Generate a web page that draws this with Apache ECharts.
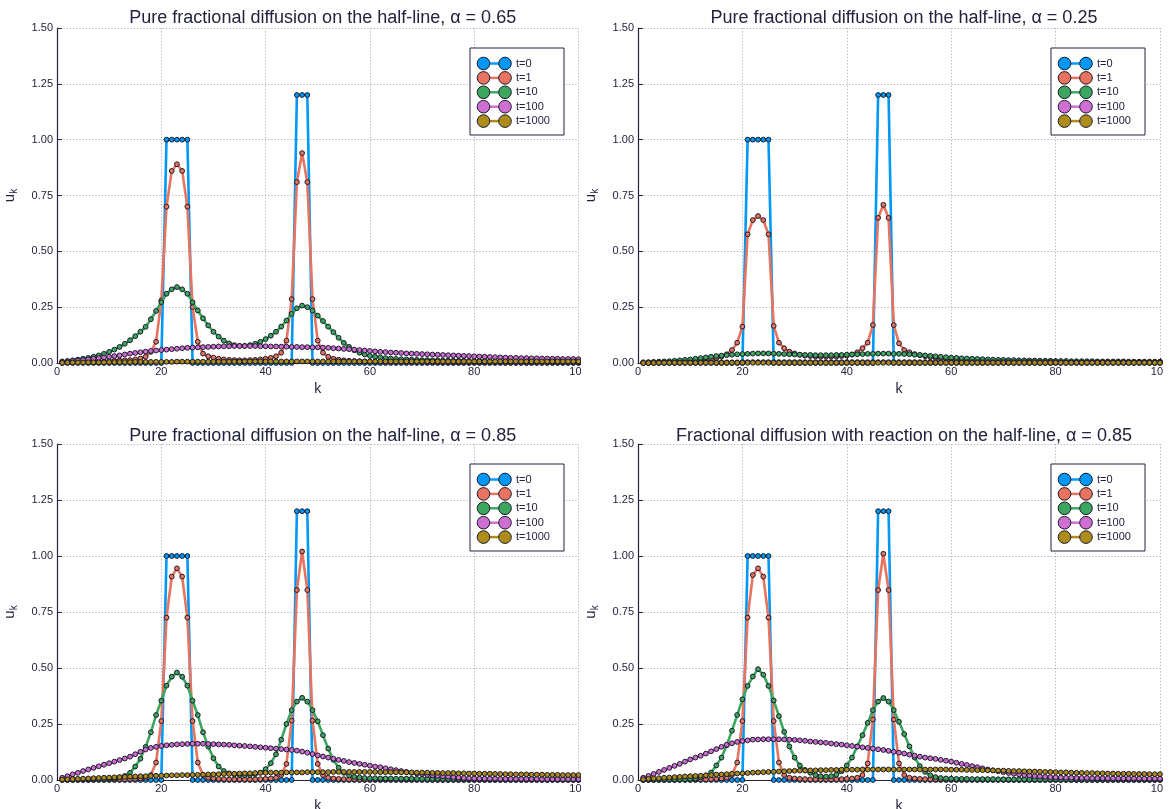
<!DOCTYPE html>
<html>
<head>
<meta charset="utf-8">
<script src="https://cdn.jsdelivr.net/npm/echarts@6/dist/echarts.min.js"></script>
<style>
  html, body { margin: 0; padding: 0; background: #ffffff; }
  body { width: 1170px; height: 809px; position: relative; overflow: hidden; }
  .panel { position: absolute; }
</style>
</head>
<body>
<div id="p1" class="panel" style="left:0;top:0;width:581px;height:404px"></div>
<div id="p2" class="panel" style="left:582px;top:0;width:581px;height:404px"></div>
<div id="p3" class="panel" style="left:0;top:404px;width:581px;height:405px"></div>
<div id="p4" class="panel" style="left:582px;top:404px;width:581px;height:405px"></div>
<script>
// lattice sites k = 1..100
const ks = [
  1,2,3,4,5,6,7,8,9,10, 11,12,13,14,15,16,17,18,19,20,
  21,22,23,24,25,26,27,28,29,30, 31,32,33,34,35,36,37,38,39,40,
  41,42,43,44,45,46,47,48,49,50, 51,52,53,54,55,56,57,58,59,60,
  61,62,63,64,65,66,67,68,69,70, 71,72,73,74,75,76,77,78,79,80,
  81,82,83,84,85,86,87,88,89,90, 91,92,93,94,95,96,97,98,99,100
];

const timeLabels = ['t=0', 't=1', 't=10', 't=100', 't=1000'];
const xTicks = [0, 20, 40, 60, 80, 100];
const yTicks = [0, 0.25, 0.5, 0.75, 1.0, 1.25, 1.5];

const titles = [
  'Pure fractional diffusion on the half-line, \u03b1 = 0.65',
  'Pure fractional diffusion on the half-line, \u03b1 = 0.25',
  'Pure fractional diffusion on the half-line, \u03b1 = 0.85',
  'Fractional diffusion with reaction on the half-line, \u03b1 = 0.85'
];

// initial profile (shared by all four runs)
const t0 = [
  0,0,0,0,0,0,0,0,0,0, 0,0,0,0,0,0,0,0,0,0,
  1,1,1,1,1,0,0,0,0,0, 0,0,0,0,0,0,0,0,0,0,
  0,0,0,0,0,1.2,1.2,1.2,0,0, 0,0,0,0,0,0,0,0,0,0,
  0,0,0,0,0,0,0,0,0,0, 0,0,0,0,0,0,0,0,0,0,
  0,0,0,0,0,0,0,0,0,0, 0,0,0,0,0,0,0,0,0,0
];

// alpha = 0.65
const a065_t1 = [
  0.003,0.003,0.004,0.004,0.005,0.005,0.006,0.007,0.008,0.009,
  0.010,0.011,0.012,0.013,0.016,0.020,0.028,0.050,0.095,0.280,
  0.700,0.860,0.890,0.860,0.700,0.250,0.095,0.042,0.030,0.024,
  0.019,0.016,0.014,0.013,0.012,0.012,0.013,0.014,0.016,0.019,
  0.023,0.030,0.046,0.100,0.286,0.810,0.940,0.810,0.286,0.100,
  0.046,0.028,0.019,0.015,0.012,0.010,0.009,0.008,0.007,0.007,
  0.006,0.006,0.005,0.005,0.005,0.005,0.004,0.004,0.004,0.004,
  0.004,0.004,0.004,0.003,0.003,0.003,0.003,0.003,0.003,0.003,
  0.003,0.003,0.003,0.003,0.003,0.002,0.002,0.002,0.002,0.002,
  0.002,0.002,0.002,0.002,0.002,0.002,0.002,0.002,0.002,0.002
];
const a065_t10 = [
  0.007,0.009,0.012,0.015,0.019,0.023,0.028,0.034,0.041,0.050,
  0.060,0.072,0.086,0.102,0.120,0.140,0.162,0.196,0.233,0.272,
  0.310,0.330,0.340,0.330,0.310,0.272,0.235,0.200,0.168,0.140,
  0.118,0.100,0.088,0.080,0.077,0.077,0.080,0.086,0.095,0.107,
  0.122,0.140,0.163,0.190,0.220,0.245,0.257,0.250,0.235,0.212,
  0.188,0.163,0.138,0.113,0.090,0.072,0.057,0.046,0.038,0.032,
  0.028,0.025,0.022,0.020,0.018,0.017,0.016,0.015,0.014,0.013,
  0.013,0.012,0.012,0.011,0.011,0.010,0.010,0.010,0.009,0.009,
  0.009,0.008,0.008,0.008,0.008,0.007,0.007,0.007,0.007,0.007,
  0.006,0.006,0.006,0.006,0.006,0.006,0.006,0.006,0.006,0.006
];
const a065_t100 = [
  0.005,0.007,0.009,0.011,0.013,0.016,0.019,0.022,0.025,0.028,
  0.031,0.034,0.038,0.042,0.045,0.048,0.051,0.054,0.056,0.058,
  0.060,0.062,0.064,0.066,0.068,0.069,0.070,0.071,0.072,0.073,
  0.074,0.075,0.075,0.076,0.076,0.076,0.076,0.076,0.075,0.075,
  0.074,0.074,0.073,0.073,0.072,0.072,0.071,0.071,0.070,0.070,
  0.069,0.068,0.066,0.065,0.063,0.062,0.060,0.058,0.056,0.054,
  0.052,0.050,0.049,0.047,0.046,0.045,0.043,0.042,0.041,0.040,
  0.039,0.038,0.037,0.036,0.035,0.034,0.033,0.032,0.031,0.030,
  0.029,0.028,0.027,0.026,0.025,0.024,0.023,0.023,0.022,0.022,
  0.021,0.021,0.020,0.020,0.019,0.019,0.018,0.018,0.018,0.017
];
const a065_t1000 = [
  0.001,0.001,0.002,0.002,0.002,0.003,0.003,0.003,0.003,0.004,
  0.004,0.004,0.004,0.004,0.005,0.005,0.005,0.005,0.005,0.005,
  0.005,0.005,0.006,0.006,0.006,0.006,0.006,0.006,0.006,0.006,
  0.006,0.006,0.006,0.006,0.006,0.007,0.007,0.007,0.007,0.007,
  0.007,0.007,0.007,0.007,0.007,0.007,0.007,0.007,0.007,0.007,
  0.007,0.007,0.007,0.007,0.007,0.007,0.007,0.007,0.007,0.007,
  0.007,0.007,0.007,0.007,0.007,0.007,0.007,0.007,0.007,0.007,
  0.007,0.007,0.007,0.007,0.007,0.007,0.007,0.007,0.007,0.007,
  0.007,0.007,0.007,0.007,0.007,0.007,0.007,0.007,0.007,0.007,
  0.007,0.007,0.007,0.007,0.007,0.007,0.007,0.007,0.007,0.007
];

// alpha = 0.25
const a025_t1 = [
  0.002,0.002,0.003,0.003,0.004,0.004,0.005,0.006,0.007,0.008,
  0.010,0.012,0.014,0.017,0.021,0.028,0.039,0.058,0.091,0.163,
  0.576,0.640,0.658,0.640,0.576,0.166,0.091,0.066,0.051,0.043,
  0.037,0.033,0.031,0.029,0.028,0.028,0.028,0.029,0.031,0.033,
  0.038,0.048,0.066,0.091,0.170,0.650,0.708,0.650,0.170,0.088,
  0.058,0.048,0.040,0.035,0.030,0.026,0.023,0.020,0.018,0.016,
  0.015,0.014,0.013,0.012,0.011,0.010,0.010,0.009,0.009,0.008,
  0.008,0.008,0.007,0.007,0.007,0.006,0.006,0.006,0.006,0.006,
  0.005,0.005,0.005,0.005,0.005,0.005,0.005,0.005,0.004,0.004,
  0.004,0.004,0.004,0.004,0.004,0.004,0.004,0.004,0.004,0.004
];
const a025_t10 = [
  0.003,0.004,0.005,0.006,0.007,0.008,0.010,0.012,0.014,0.016,
  0.019,0.022,0.025,0.028,0.031,0.033,0.035,0.037,0.039,0.040,
  0.041,0.042,0.043,0.043,0.043,0.042,0.041,0.040,0.039,0.038,
  0.037,0.036,0.036,0.035,0.035,0.035,0.035,0.036,0.036,0.037,
  0.038,0.039,0.040,0.041,0.041,0.042,0.042,0.042,0.041,0.041,
  0.040,0.039,0.037,0.036,0.034,0.032,0.030,0.028,0.026,0.024,
  0.023,0.021,0.020,0.019,0.018,0.017,0.016,0.015,0.014,0.014,
  0.013,0.013,0.012,0.012,0.011,0.011,0.010,0.010,0.010,0.009,
  0.009,0.009,0.008,0.008,0.008,0.008,0.008,0.007,0.007,0.007,
  0.007,0.007,0.007,0.006,0.006,0.006,0.006,0.006,0.006,0.006
];
const a025_t100 = [
  0.001,0.001,0.001,0.002,0.002,0.002,0.002,0.002,0.003,0.003,
  0.003,0.003,0.003,0.003,0.003,0.003,0.003,0.003,0.003,0.004,
  0.004,0.004,0.004,0.004,0.004,0.004,0.004,0.004,0.004,0.004,
  0.004,0.004,0.004,0.004,0.004,0.004,0.004,0.004,0.004,0.004,
  0.004,0.004,0.004,0.004,0.004,0.004,0.004,0.004,0.004,0.004,
  0.004,0.004,0.004,0.004,0.004,0.004,0.004,0.004,0.004,0.004,
  0.004,0.004,0.004,0.004,0.004,0.004,0.004,0.004,0.004,0.004,
  0.004,0.004,0.004,0.004,0.004,0.004,0.004,0.004,0.004,0.004,
  0.003,0.003,0.003,0.003,0.003,0.003,0.003,0.003,0.003,0.003,
  0.003,0.003,0.003,0.003,0.003,0.003,0.003,0.003,0.003,0.003
];
const a025_t1000 = [
  0.000,0.000,0.000,0.001,0.001,0.001,0.001,0.001,0.001,0.001,
  0.001,0.001,0.001,0.001,0.001,0.001,0.001,0.001,0.001,0.001,
  0.001,0.001,0.001,0.001,0.001,0.001,0.001,0.001,0.001,0.001,
  0.001,0.001,0.001,0.001,0.001,0.001,0.001,0.001,0.001,0.001,
  0.001,0.001,0.001,0.001,0.001,0.001,0.001,0.001,0.001,0.001,
  0.001,0.001,0.001,0.001,0.001,0.001,0.001,0.001,0.001,0.001,
  0.001,0.001,0.001,0.001,0.001,0.001,0.001,0.001,0.001,0.001,
  0.001,0.001,0.001,0.001,0.001,0.001,0.001,0.001,0.001,0.001,
  0.001,0.001,0.001,0.001,0.001,0.001,0.001,0.001,0.001,0.001,
  0.001,0.001,0.001,0.001,0.001,0.001,0.001,0.001,0.001,0.001
];

// alpha = 0.85
const a085_t1 = [
  0.001,0.001,0.001,0.001,0.001,0.001,0.001,0.002,0.002,0.002,
  0.002,0.003,0.003,0.004,0.005,0.007,0.010,0.022,0.078,0.263,
  0.725,0.908,0.945,0.908,0.725,0.263,0.078,0.022,0.010,0.007,
  0.005,0.004,0.003,0.003,0.003,0.003,0.003,0.003,0.004,0.005,
  0.007,0.010,0.022,0.072,0.265,0.848,1.020,0.848,0.265,0.072,
  0.022,0.010,0.007,0.005,0.004,0.003,0.003,0.002,0.002,0.002,
  0.002,0.002,0.002,0.002,0.002,0.002,0.002,0.002,0.002,0.002,
  0.001,0.001,0.001,0.001,0.001,0.001,0.001,0.001,0.001,0.001,
  0.001,0.001,0.001,0.001,0.001,0.001,0.001,0.001,0.001,0.001,
  0.001,0.001,0.001,0.001,0.001,0.001,0.001,0.001,0.001,0.001
];
const a085_t10 = [
  0.002,0.002,0.002,0.003,0.003,0.003,0.004,0.004,0.005,0.006,
  0.008,0.012,0.018,0.032,0.060,0.095,0.148,0.213,0.290,0.354,
  0.421,0.461,0.480,0.461,0.421,0.354,0.290,0.213,0.149,0.097,
  0.060,0.040,0.030,0.025,0.022,0.021,0.022,0.026,0.033,0.048,
  0.075,0.115,0.180,0.250,0.312,0.350,0.367,0.350,0.312,0.262,
  0.200,0.140,0.090,0.055,0.032,0.020,0.014,0.011,0.009,0.008,
  0.008,0.007,0.007,0.007,0.006,0.006,0.006,0.006,0.005,0.005,
  0.005,0.005,0.005,0.005,0.004,0.004,0.004,0.004,0.004,0.004,
  0.004,0.004,0.004,0.004,0.003,0.003,0.003,0.003,0.003,0.003,
  0.003,0.003,0.003,0.003,0.003,0.003,0.003,0.003,0.003,0.003
];
const a085_t100 = [
  0.010,0.017,0.025,0.032,0.040,0.047,0.054,0.061,0.068,0.075,
  0.082,0.089,0.096,0.104,0.115,0.126,0.136,0.143,0.148,0.152,
  0.155,0.157,0.159,0.160,0.161,0.162,0.162,0.162,0.161,0.160,
  0.159,0.158,0.157,0.155,0.153,0.152,0.150,0.148,0.146,0.144,
  0.142,0.140,0.138,0.136,0.134,0.131,0.127,0.122,0.116,0.110,
  0.105,0.100,0.095,0.090,0.085,0.080,0.076,0.072,0.068,0.064,
  0.060,0.057,0.052,0.048,0.044,0.040,0.036,0.032,0.029,0.026,
  0.023,0.021,0.019,0.017,0.015,0.013,0.011,0.009,0.008,0.007,
  0.006,0.006,0.006,0.006,0.005,0.005,0.005,0.005,0.005,0.005,
  0.005,0.005,0.004,0.004,0.004,0.004,0.004,0.004,0.004,0.004
];
const a085_t1000 = [
  0.002,0.003,0.004,0.005,0.006,0.007,0.008,0.009,0.010,0.011,
  0.012,0.013,0.014,0.015,0.016,0.017,0.017,0.018,0.019,0.019,
  0.020,0.021,0.021,0.022,0.022,0.023,0.023,0.024,0.025,0.025,
  0.026,0.027,0.027,0.028,0.029,0.030,0.030,0.031,0.032,0.032,
  0.033,0.033,0.033,0.034,0.034,0.034,0.034,0.035,0.035,0.035,
  0.035,0.035,0.036,0.036,0.036,0.036,0.036,0.036,0.036,0.036,
  0.036,0.035,0.035,0.035,0.035,0.034,0.034,0.034,0.033,0.033,
  0.033,0.032,0.032,0.031,0.031,0.031,0.030,0.030,0.029,0.029,
  0.028,0.028,0.028,0.027,0.027,0.026,0.026,0.025,0.025,0.025,
  0.024,0.024,0.024,0.023,0.023,0.023,0.022,0.022,0.022,0.022
];

// alpha = 0.85 with reaction term
const r085_t1 = [
  0.001,0.001,0.001,0.001,0.001,0.001,0.001,0.002,0.002,0.002,
  0.002,0.003,0.003,0.004,0.005,0.007,0.010,0.022,0.078,0.263,
  0.725,0.915,0.945,0.908,0.725,0.263,0.078,0.022,0.010,0.007,
  0.005,0.004,0.003,0.003,0.003,0.003,0.003,0.003,0.004,0.005,
  0.007,0.010,0.022,0.074,0.270,0.848,1.010,0.848,0.270,0.074,
  0.022,0.010,0.007,0.005,0.004,0.003,0.003,0.002,0.002,0.002,
  0.002,0.002,0.002,0.002,0.002,0.002,0.002,0.002,0.002,0.002,
  0.001,0.001,0.001,0.001,0.001,0.001,0.001,0.001,0.001,0.001,
  0.001,0.001,0.001,0.001,0.001,0.001,0.001,0.001,0.001,0.001,
  0.001,0.001,0.001,0.001,0.001,0.001,0.001,0.001,0.001,0.001
];
const r085_t10 = [
  0.001,0.001,0.001,0.002,0.002,0.002,0.003,0.003,0.004,0.005,
  0.007,0.012,0.020,0.033,0.065,0.100,0.155,0.220,0.290,0.360,
  0.420,0.462,0.495,0.470,0.420,0.355,0.285,0.215,0.150,0.100,
  0.065,0.045,0.032,0.022,0.017,0.015,0.017,0.024,0.039,0.065,
  0.100,0.150,0.200,0.255,0.312,0.350,0.366,0.350,0.312,0.260,
  0.205,0.150,0.100,0.062,0.036,0.021,0.013,0.009,0.007,0.006,
  0.005,0.005,0.005,0.004,0.004,0.004,0.004,0.004,0.003,0.003,
  0.003,0.003,0.003,0.003,0.003,0.003,0.003,0.003,0.003,0.003,
  0.002,0.002,0.002,0.002,0.002,0.002,0.002,0.002,0.002,0.002,
  0.002,0.002,0.002,0.002,0.002,0.002,0.002,0.002,0.002,0.002
];
const r085_t100 = [
  0.010,0.018,0.027,0.036,0.045,0.054,0.063,0.072,0.082,0.092,
  0.100,0.108,0.118,0.128,0.138,0.148,0.157,0.164,0.170,0.174,
  0.177,0.180,0.181,0.182,0.182,0.182,0.182,0.181,0.180,0.179,
  0.177,0.175,0.172,0.170,0.168,0.166,0.163,0.160,0.158,0.155,
  0.152,0.149,0.146,0.143,0.140,0.137,0.134,0.130,0.126,0.122,
  0.118,0.113,0.109,0.104,0.100,0.097,0.094,0.090,0.086,0.082,
  0.077,0.072,0.067,0.062,0.057,0.052,0.047,0.043,0.039,0.035,
  0.031,0.028,0.025,0.022,0.020,0.018,0.016,0.014,0.013,0.012,
  0.011,0.010,0.010,0.009,0.009,0.009,0.008,0.008,0.008,0.008,
  0.007,0.007,0.007,0.007,0.007,0.007,0.006,0.006,0.006,0.006
];
const r085_t1000 = [
  0.003,0.005,0.007,0.008,0.010,0.011,0.013,0.014,0.016,0.017,
  0.018,0.019,0.021,0.022,0.024,0.025,0.026,0.028,0.029,0.030,
  0.031,0.033,0.034,0.035,0.036,0.037,0.038,0.039,0.040,0.041,
  0.042,0.042,0.043,0.043,0.044,0.044,0.045,0.045,0.046,0.046,
  0.046,0.046,0.047,0.047,0.047,0.047,0.047,0.047,0.047,0.047,
  0.047,0.047,0.047,0.047,0.047,0.047,0.047,0.047,0.047,0.046,
  0.046,0.046,0.045,0.045,0.044,0.044,0.043,0.043,0.042,0.042,
  0.041,0.040,0.040,0.039,0.038,0.038,0.037,0.036,0.036,0.035,
  0.034,0.034,0.033,0.032,0.032,0.031,0.031,0.030,0.030,0.029,
  0.029,0.028,0.028,0.028,0.027,0.027,0.027,0.026,0.026,0.026
];

const runs = [
  [t0, a065_t1, a065_t10, a065_t100, a065_t1000],
  [t0, a025_t1, a025_t10, a025_t100, a025_t1000],
  [t0, a085_t1, a085_t10, a085_t100, a085_t1000],
  [t0, r085_t1, r085_t10, r085_t100, r085_t1000]
];

const palette = ['#0098F8', '#E8735F', '#3BA75F', '#CF6FD2', '#AE8C1A'];
const ink = '#23233f';
const font = '"Liberation Sans", Arial, Helvetica, sans-serif';

// plot frame per panel (local pixels)
const frames = [
  { left: 57, top: 28, width: 521.5, height: 335, titleY: 16 },
  { left: 56, top: 28, width: 522, height: 335, titleY: 16 },
  { left: 57, top: 40, width: 521.5, height: 336, titleY: 30 },
  { left: 56, top: 40, width: 522, height: 336, titleY: 30 }
];

function legendGraphic(fr) {
  const boxX = fr.left + 413, boxY = fr.top + 20;
  const rowH = 14.4;
  const children = [{
    type: 'rect',
    shape: { x: boxX, y: boxY, width: 94, height: 87 },
    style: { fill: '#ffffff', stroke: ink, lineWidth: 1 },
    z: 10
  }];
  timeLabels.forEach((lab, i) => {
    const cy = boxY + 15.5 + i * rowH;
    const c1 = boxX + 13.5, c2 = boxX + 35;
    children.push({
      type: 'line', shape: { x1: c1, y1: cy, x2: c2, y2: cy },
      style: { stroke: palette[i], lineWidth: 2.5 }, z: 11
    });
    [c1, c2].forEach(cx => children.push({
      type: 'circle', shape: { cx: cx, cy: cy, r: 6.3 },
      style: { fill: palette[i], stroke: '#1a1a2a', lineWidth: 1 }, z: 12
    }));
    children.push({
      type: 'text', x: boxX + 46, y: cy,
      style: { text: lab, fill: ink, font: '11px ' + font, textVerticalAlign: 'middle', textAlign: 'left' },
      z: 12
    });
  });
  return children;
}

function drawPanel(id, idx) {
  const fr = frames[idx];
  const el = document.getElementById(id);
  const chart = echarts.init(el, null, { renderer: 'canvas' });
  const series = runs[idx].map((vals, i) => ({
    name: timeLabels[i],
    type: 'line',
    data: ks.map((k, j) => [k, vals[j]]),
    symbol: 'circle',
    symbolSize: 4.8,
    showSymbol: true,
    showAllSymbol: true,
    clip: false,
    lineStyle: { color: palette[i], width: 2.6 },
    itemStyle: { color: palette[i], borderColor: '#1a1a2a', borderWidth: 1 },
    emphasis: { disabled: true },
    z: 3 + i
  }));
  chart.setOption({
    animation: false,
    backgroundColor: 'transparent',
    textStyle: { fontFamily: font },
    title: {
      text: titles[idx],
      left: fr.left + fr.width / 2,
      top: fr.titleY - 12,
      textAlign: 'center',
      textStyle: { fontSize: 18, fontWeight: 'normal', color: ink, fontFamily: font }
    },
    grid: {
      left: fr.left, top: fr.top,
      width: fr.width, height: fr.height,
      containLabel: false,
      outerBoundsMode: 'none'
    },
    xAxis: {
      type: 'value',
      min: xTicks[0], max: xTicks[xTicks.length - 1], interval: 20,
      name: 'k', nameLocation: 'middle', nameGap: 8,
      nameTextStyle: { fontSize: 14, color: ink, fontFamily: font },
      axisLine: { show: true, onZero: false, lineStyle: { color: ink, width: 1.2 } },
      axisTick: { show: true, inside: true, length: 5, lineStyle: { color: ink } },
      axisLabel: { color: ink, fontSize: 11, margin: 3, fontFamily: font },
      splitLine: { show: true, lineStyle: { color: '#b0b0b8', type: [1.2, 2], width: 1 } }
    },
    yAxis: {
      type: 'value',
      min: yTicks[0], max: yTicks[yTicks.length - 1], interval: 0.25,
      name: '{u|u}{k|k}', nameLocation: 'middle', nameGap: 38, nameRotate: 90,
      nameTextStyle: {
        color: ink, fontFamily: font,
        rich: {
          u: { fontSize: 15, color: ink, fontFamily: font },
          k: { fontSize: 10, color: ink, fontFamily: font, verticalAlign: 'bottom', padding: [8, 0, 0, 0] }
        }
      },
      axisLine: { show: true, lineStyle: { color: ink, width: 1.2 } },
      axisTick: { show: true, inside: true, length: 5, lineStyle: { color: ink } },
      axisLabel: { color: ink, fontSize: 11, margin: 4, fontFamily: font, formatter: v => v.toFixed(2) },
      splitLine: { show: true, lineStyle: { color: '#b0b0b8', type: [1.2, 2], width: 1 } }
    },
    series: series,
    graphic: legendGraphic(fr)
  });
}

drawPanel('p1', 0);
drawPanel('p2', 1);
drawPanel('p3', 2);
drawPanel('p4', 3);
</script>
</body>
</html>
